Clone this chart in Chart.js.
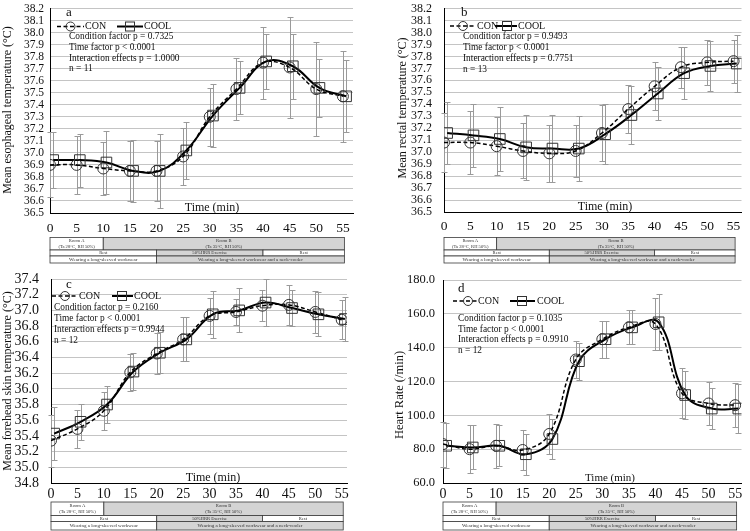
<!DOCTYPE html>
<html>
<head>
<meta charset="utf-8">
<script src="https://cdn.jsdelivr.net/npm/chart.js@4.4.1/dist/chart.umd.min.js"></script>
<style>
  html, body { margin: 0; padding: 0; background: #fff; }
  #figure { position: relative; width: 750px; height: 531px; overflow: hidden; }
  #figure canvas { position: absolute; }
</style>
</head>
<body>
<div id="figure">
  <canvas id="panelA" width="375" height="265" style="left:0;top:0"></canvas>
  <canvas id="panelB" width="375" height="265" style="left:375px;top:0"></canvas>
  <canvas id="panelC" width="375" height="266" style="left:0;top:265px"></canvas>
  <canvas id="panelD" width="375" height="266" style="left:375px;top:265px"></canvas>
</div>
<script>
// time points (min)
const TIMES = [0, 5, 10, 15, 20, 25, 30, 35, 40, 45, 50, 55];
const COOL_SHIFT = 0.6; // COOL markers sit a little right of CON in the original

// a: esophageal temperature
const ESO_CON = [36.90, 36.90, 36.87, 36.85, 36.85, 36.97, 37.30, 37.53, 37.75, 37.71, 37.53, 37.47];
const ESO_COOL = [36.94, 36.94, 36.92, 36.85, 36.85, 37.02, 37.31, 37.54, 37.76, 37.72, 37.54, 37.47];
const ESO_CON_SD = [0.27, 0.24, 0.22, 0.25, 0.25, 0.24, 0.24, 0.26, 0.30, 0.42, 0.39, 0.38];
const ESO_COOL_SD = [0.23, 0.22, 0.26, 0.26, 0.31, 0.24, 0.26, 0.22, 0.23, 0.27, 0.24, 0.30];
const ESO_STATS = ["Condition factor p = 0.7325", "Time factor p < 0.0001", "Interaction effects p = 1.0000", "n = 11"];

// b: rectal temperature
const REC_CON = [37.08, 37.08, 37.05, 37.01, 36.99, 37.01, 37.16, 37.36, 37.55, 37.71, 37.75, 37.76];
const REC_COOL = [37.16, 37.14, 37.11, 37.04, 37.03, 37.03, 37.15, 37.31, 37.49, 37.66, 37.72, 37.74];
const REC_CON_SD = [0.25, 0.26, 0.24, 0.23, 0.24, 0.22, 0.23, 0.20, 0.20, 0.17, 0.19, 0.18];
const REC_COOL_SD = [0.26, 0.26, 0.27, 0.27, 0.28, 0.27, 0.25, 0.24, 0.22, 0.22, 0.21, 0.24];
const REC_STATS = ["Condition factor p = 0.9493", "Time factor p < 0.0001", "Interaction effects p = 0.7751", "n = 13"];

// c: forehead skin temperature
const SKIN_CON = [35.34, 35.49, 35.72, 36.21, 36.45, 36.63, 36.93, 36.98, 37.06, 37.07, 36.98, 36.88];
const SKIN_COOL = [35.43, 35.58, 35.80, 36.22, 36.46, 36.63, 36.95, 37.00, 37.10, 37.03, 36.95, 36.89];
const SKIN_CON_SD = [0.33, 0.24, 0.24, 0.24, 0.26, 0.28, 0.23, 0.17, 0.20, 0.25, 0.27, 0.25];
const SKIN_COOL_SD = [0.34, 0.23, 0.24, 0.24, 0.26, 0.28, 0.30, 0.28, 0.30, 0.23, 0.28, 0.28];
const SKIN_STATS = ["Condition factor p = 0.2160", "Time factor p < 0.0001", "Interaction effects p = 0.9944", "n = 12"];

// d: heart rate
const HR_CON = [83, 80, 82, 79.5, 89, 133, 145, 152, 154, 113, 107, 106];
const HR_COOL = [82, 81, 82, 77, 86, 132, 145, 152, 155, 112, 104, 104];
const HR_CON_SD = [13.3, 14, 13, 12, 12, 11, 11, 10, 15.5, 14.8, 12.5, 13];
const HR_COOL_SD = [13.3, 13, 12, 12, 12, 11, 11, 10, 16.5, 14, 12, 14.5];
const HR_STATS = ["Condition factor p = 0.1035", "Time factor p < 0.0001", "Interaction effects p = 0.9910", "n = 12"];

// protocol table under each panel (from/to in minutes)
const ROOM_CELLS = [
  { from: 0, to: 10, lines: ["Room A", "(Ta 28°C, RH 50%)"], shaded: false },
  { from: 10, to: 55, lines: ["Room B", "(Ta 35°C, RH 50%)"], shaded: true }
];
const PHASE_CELLS = [
  { from: 0, to: 20, lines: ["Rest"], shaded: false },
  { from: 20, to: 40, lines: ["50%HRR Exercise"], shaded: true },
  { from: 40, to: 55, lines: ["Rest"], shaded: false }
];
const WEAR_CELLS = [
  { from: 0, to: 20, lines: ["Wearing a long-sleeved workwear"], shaded: false },
  { from: 20, to: 55, lines: ["Wearing a long-sleeved workwear and a neck-cooler"], shaded: true }
];

const SERIF = "'Liberation Serif', 'Times New Roman', serif";

const errorBars = {
  id: "errorBars",
  beforeDatasetsDraw(chart) {
    const { ctx } = chart;
    const yScale = chart.scales.y;
    ctx.save();
    ctx.strokeStyle = "#9a9a9a";
    ctx.lineWidth = 1;
    chart.data.datasets.forEach((ds, di) => {
      const meta = chart.getDatasetMeta(di);
      meta.data.forEach((pt, i) => {
        const v = ds.data[i].y;
        const e = ds.errors[i];
        const x = Math.round(pt.x) + 0.5;
        const top = Math.round(yScale.getPixelForValue(v + e)) + 0.5;
        const bot = Math.round(yScale.getPixelForValue(v - e)) + 0.5;
        ctx.beginPath();
        ctx.moveTo(x, top); ctx.lineTo(x, bot);
        ctx.moveTo(x - 3, top); ctx.lineTo(x + 3, top);
        ctx.moveTo(x - 3, bot); ctx.lineTo(x + 3, bot);
        ctx.stroke();
      });
    });
    ctx.restore();
  }
};

function drawCircle(ctx, x, y, r) {
  ctx.beginPath();
  ctx.arc(x, y, r, 0, Math.PI * 2);
  ctx.stroke();
}

function drawSquare(ctx, x, y, half) {
  ctx.strokeRect(x - half, y - half, half * 2, half * 2);
}

function drawTableRow(ctx, xScale, cells, y0, y1, fontSize) {
  cells.forEach((cell) => {
    const left = xScale.getPixelForValue(cell.from);
    const right = cell.to === 55 ? xScale.getPixelForValue(55) + 1.5 : xScale.getPixelForValue(cell.to);
    ctx.fillStyle = cell.shaded ? "#d4d4d4" : "#ffffff";
    ctx.fillRect(left, y0, right - left, y1 - y0);
    ctx.strokeStyle = "#3a3a3a";
    ctx.lineWidth = 0.8;
    ctx.strokeRect(left, y0, right - left, y1 - y0);
    ctx.fillStyle = "#333";
    ctx.font = `${fontSize}px ${SERIF}`;
    ctx.textAlign = "center";
    ctx.textBaseline = "middle";
    const mid = (y0 + y1) / 2;
    const lh = fontSize * 1.15;
    cell.lines.forEach((line, i) => {
      const yy = mid + (i - (cell.lines.length - 1) / 2) * lh;
      ctx.fillText(line, (left + right) / 2, yy);
    });
  });
}

function panelText(panel) {
  const L = panel.layout;
  return {
    id: "panelText",
    afterDraw(chart) {
      const { ctx, chartArea } = chart;
      const xScale = chart.scales.x;
      ctx.save();
      ctx.fillStyle = "#111";

      // panel letter
      ctx.font = `13px ${SERIF}`;
      ctx.textAlign = "left";
      ctx.textBaseline = "middle";
      ctx.fillText(panel.letter, L.letterPos[0], L.letterPos[1]);

      // legend
      const ly = L.legendY;
      ctx.strokeStyle = "#000";
      ctx.lineWidth = 1.5;
      ctx.setLineDash([4, 2.5]);
      ctx.beginPath();
      ctx.moveTo(L.conLine[0], ly); ctx.lineTo(L.conLine[1], ly);
      ctx.stroke();
      ctx.setLineDash([]);
      ctx.lineWidth = 1;
      ctx.strokeStyle = "#333";
      drawCircle(ctx, L.conMark, ly, 4.5);
      ctx.strokeStyle = "#000";
      ctx.lineWidth = 2;
      ctx.beginPath();
      ctx.moveTo(L.coolLine[0], ly); ctx.lineTo(L.coolLine[1], ly);
      ctx.stroke();
      ctx.lineWidth = 1;
      ctx.strokeStyle = "#333";
      drawSquare(ctx, L.coolMark, ly, 4.5);
      ctx.font = `10px ${SERIF}`;
      ctx.fillText("CON", L.conText, ly);
      ctx.fillText("COOL", L.coolText, ly);

      // statistics
      ctx.font = `9.4px ${SERIF}`;
      panel.stats.forEach((s, i) => ctx.fillText(s, L.statsX, L.statsY[i]));

      // x title inside plot
      ctx.font = `${L.timeFont}px ${SERIF}`;
      ctx.textAlign = "center";
      ctx.textBaseline = "alphabetic";
      ctx.fillText("Time (min)", L.timeX, chartArea.bottom - 2);

      // y title
      ctx.save();
      ctx.translate(L.titleX, L.titleY);
      ctx.rotate(-Math.PI / 2);
      ctx.font = `${L.titleFont}px ${SERIF}`;
      ctx.textAlign = "center";
      ctx.textBaseline = "middle";
      ctx.fillText(panel.yTitle, 0, 0);
      ctx.restore();

      // protocol table
      const t = L.tableY;
      drawTableRow(ctx, xScale, ROOM_CELLS, t[0], t[1], 4.6);
      drawTableRow(ctx, xScale, PHASE_CELLS, t[1], t[2], 4.6);
      drawTableRow(ctx, xScale, WEAR_CELLS, t[2], t[3], 5);
      ctx.restore();
    }
  };
}

function buildPanel(panel) {
  const L = panel.layout;
  const canvas = document.getElementById(panel.id);
  const H = canvas.height;
  const W = canvas.width;
  return new Chart(canvas.getContext("2d"), {
    type: "line",
    data: {
      datasets: [
        {
          label: "CON",
          data: TIMES.map((t, i) => ({ x: t, y: panel.con[i] })),
          errors: panel.conSd,
          borderColor: "#000",
          borderWidth: 1.5,
          borderDash: [4, 2.5],
          tension: 0.4,
          pointStyle: "circle",
          pointRadius: 5.5,
          pointBorderColor: "#333",
          pointBorderWidth: 1,
          pointBackgroundColor: "rgba(0,0,0,0)"
        },
        {
          label: "COOL",
          data: TIMES.map((t, i) => ({ x: t + COOL_SHIFT, y: panel.cool[i] })),
          errors: panel.coolSd,
          borderColor: "#000",
          borderWidth: 2,
          tension: 0.4,
          pointStyle: "rect",
          pointRadius: 7.5,
          pointBorderColor: "#333",
          pointBorderWidth: 1,
          pointBackgroundColor: "rgba(0,0,0,0)"
        }
      ]
    },
    options: {
      responsive: false,
      animation: false,
      devicePixelRatio: 1,
      layout: { padding: { top: L.top, right: W - L.right, left: 0, bottom: 0 } },
      plugins: { legend: { display: false }, tooltip: { enabled: false } },
      scales: {
        x: {
          type: "linear",
          min: 0,
          max: L.xMax,
          grid: { display: false, drawTicks: false },
          border: { color: "#000", width: 1 },
          ticks: {
            stepSize: 5,
            includeBounds: false,
            autoSkip: false,
            maxRotation: 0,
            padding: L.xPad,
            color: "#111",
            font: { family: SERIF, size: L.xFont }
          },
          afterFit: (s) => { s.height = H - L.bottom; }
        },
        y: {
          min: panel.yMin,
          max: panel.yMax,
          grid: { color: "#c4c4c4", drawTicks: false },
          border: { color: "#000", width: 1 },
          ticks: {
            stepSize: panel.yStep,
            maxTicksLimit: 100,
            autoSkip: false,
            padding: L.yPad,
            color: "#111",
            font: { family: SERIF, size: L.yFont },
            callback: (v) => Number(v).toFixed(1)
          },
          afterFit: (s) => {
            s.width = L.left;
            s.paddingTop = 0;
            s.paddingBottom = 0;
          }
        }
      }
    },
    plugins: [errorBars, panelText(panel)]
  });
}

const panels = [
  {
    id: "panelA", letter: "a", yTitle: "Mean esophageal temperature (°C)",
    con: ESO_CON, cool: ESO_COOL, conSd: ESO_CON_SD, coolSd: ESO_COOL_SD, stats: ESO_STATS,
    yMin: 36.5, yMax: 38.2, yStep: 0.1,
    layout: {
      left: 50, top: 6, bottom: 213, right: 353, xMax: 56.9,
      yFont: 11.5, yPad: 6, xFont: 13.5, xPad: 7,
      titleX: 8, titleY: 110, titleFont: 12, timeX: 212, timeFont: 12,
      letterPos: [66, 13], legendY: 26.5,
      conLine: [57, 84], conMark: 70.5, conText: 85,
      coolLine: [117, 143], coolMark: 130, coolText: 144,
      statsX: 69, statsY: [37, 48, 58.5, 69],
      tableY: [237.5, 250, 256, 263]
    }
  },
  {
    id: "panelB", letter: "b", yTitle: "Mean rectal temperature (°C)",
    con: REC_CON, cool: REC_COOL, conSd: REC_CON_SD, coolSd: REC_COOL_SD, stats: REC_STATS,
    yMin: 36.5, yMax: 38.2, yStep: 0.1,
    layout: {
      left: 69, top: 6, bottom: 212, right: 373, xMax: 56.5,
      yFont: 12, yPad: 12, xFont: 13.5, xPad: 6,
      titleX: 28, titleY: 108, titleFont: 12, timeX: 230, timeFont: 12,
      letterPos: [86, 13], legendY: 26,
      conLine: [75, 100], conMark: 88, conText: 102,
      coolLine: [120, 142], coolMark: 132, coolText: 143,
      statsX: 88, statsY: [37, 48, 59, 70],
      tableY: [237.5, 250, 256, 263]
    }
  },
  {
    id: "panelC", letter: "c", yTitle: "Mean forehead skin temperature (°C)",
    con: SKIN_CON, cool: SKIN_COOL, conSd: SKIN_CON_SD, coolSd: SKIN_COOL_SD, stats: SKIN_STATS,
    yMin: 34.8, yMax: 37.4, yStep: 0.2,
    layout: {
      left: 51, top: 14, bottom: 218, right: 347, xMax: 56,
      yFont: 14, yPad: 12, xFont: 14, xPad: 3,
      titleX: 8, titleY: 116, titleFont: 12, timeX: 213, timeFont: 12,
      letterPos: [66, 20], legendY: 31,
      conLine: [52, 78], conMark: 65, conText: 79,
      coolLine: [112, 133], coolMark: 122, coolText: 134,
      statsX: 54, statsY: [43, 53.5, 64.5, 76],
      tableY: [237, 250.5, 256.5, 265]
    }
  },
  {
    id: "panelD", letter: "d", yTitle: "Heart Rate (/min)",
    con: HR_CON, cool: HR_COOL, conSd: HR_CON_SD, coolSd: HR_COOL_SD, stats: HR_STATS,
    yMin: 60, yMax: 180, yStep: 20,
    layout: {
      left: 68, top: 15, bottom: 218, right: 373, xMax: 56.2,
      yFont: 12.5, yPad: 8, xFont: 14, xPad: 3,
      titleX: 25, titleY: 130, titleFont: 12.5, timeX: 235, timeFont: 11,
      letterPos: [83, 24], legendY: 36,
      conLine: [78, 102], conMark: 93, conText: 103,
      coolLine: [135, 160], coolMark: 147, coolText: 162,
      statsX: 83, statsY: [54, 64.5, 75, 86],
      tableY: [237, 250.5, 256.5, 265]
    }
  }
];

panels.forEach(buildPanel);
</script>
</body>
</html>
